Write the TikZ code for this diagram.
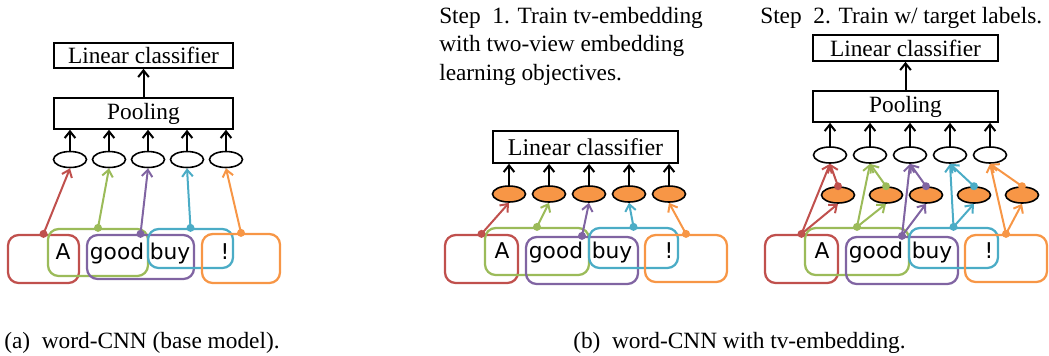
\documentclass[tikz,border=0pt]{standalone}
\usepackage{fontspec}
\setmainfont{Liberation Serif}
\newfontfamily\wordfont{DejaVu Sans}
\usetikzlibrary{arrows.meta,shapes.geometric}

\newcommand{\px}[1]{#1*0.75pt}
\definecolor{wred}{HTML}{C0504D}
\definecolor{wgreen}{HTML}{9BBB59}
\definecolor{wpurple}{HTML}{8064A2}
\definecolor{wblue}{HTML}{4BACC6}
\definecolor{worange}{HTML}{F79646}

\tikzset{
  layer/.style={draw, line width=1.2pt, inner sep=0pt, minimum width=\px{179}, font=\fontsize{17.5}{20}\selectfont},
  cell/.style={ellipse, draw, line width=1.2pt, minimum width=\px{33}, minimum height=\px{16}, inner sep=0pt},
  tvcell/.style={cell, fill=worange},
  win/.style={draw=#1, line width=1.7pt, rounded corners=8pt, inner sep=0pt},
  word/.style={font=\wordfont\fontsize{16.3}{18}\selectfont, anchor=base, inner sep=0pt},
  up/.style={-{Straight Barb[length=5pt,width=8pt]}, line width=1.5pt},
  link/.style={draw=#1, line width=1.5pt, -{Straight Barb[length=5pt,width=8pt]}},
  dot/.style={circle, fill=#1, inner sep=0pt, minimum size=6pt},
  caption/.style={font=\fontsize{17.5}{21.4}\selectfont, anchor=base west, inner sep=0pt, align=left}
}

% one row of overlapping windows, red box starting at x=0
\newcommand{\wordrow}[1]{%
  \node[win=wred, minimum width=\px{73}, minimum height=\px{48}] (#1r) at (36.5,259) {};
  \node[win=wgreen, minimum width=\px{104}, minimum height=\px{47}] (#1g) at (92,251.5) {};
  \node[win=wpurple, minimum width=\px{112}, minimum height=\px{47}] (#1p) at (137,260.5) {};
  \node[win=wblue, minimum width=\px{89}, minimum height=\px{40}] (#1b) at (188.5,248) {};
  \node[win=worange, minimum width=\px{82}, minimum height=\px{47}] (#1o) at (241,258.5) {};
  \node[word] (#1w1) at (57,258) {A};
  \node[word] (#1w2) at (111,258) {good};
  \node[word] (#1w3) at (167,258) {buy};
  \node[word] (#1w4) at (224,258) {!};
}

\begin{document}
\begin{tikzpicture}[x=0.75pt, y=-0.75pt]
\useasboundingbox (0,0) rectangle (1049,355);

% (a) base model
\node[layer, minimum height=\px{25}] (alin) at (143.5,55.5) {Linear classifier};
\node[layer, minimum height=\px{31}] (apool) at (143.5,113.5) {Pooling};
\draw[up] (apool) -- (alin);
\foreach \i/\x in {1/70,2/109,3/148,4/187,5/226} {
  \node[cell] (ae\i) at (\x,159.5) {};
  \draw[up] (ae\i.north) -- (ae\i.north |- apool.south);
}
\node[win=wred, minimum width=\px{71}, minimum height=\px{48}] (ar) at (43.5,259) {};
\node[win=wgreen, minimum width=\px{100}, minimum height=\px{47}] (ag) at (98,252.5) {};
\node[win=wpurple, minimum width=\px{107}, minimum height=\px{44}] (ap) at (140.5,257) {};
\node[win=wblue, minimum width=\px{85}, minimum height=\px{39}] (ab) at (190.5,248.5) {};
\node[win=worange, minimum width=\px{78}, minimum height=\px{49}] (ao) at (241,258.5) {};
\node[word] (aw1) at (63,259) {A};
\node[word] (aw2) at (117,259) {good};
\node[word] (aw3) at (170,259) {buy};
\node[word] (aw4) at (225,259) {!};
\foreach \w/\c/\i in {r/wred/1,g/wgreen/2,p/wpurple/3,b/wblue/4,o/worange/5}
  \draw[link=\c] (a\w.north) node[dot=\c] {} -- (ae\i.south);
\node[caption] (acap) at (4,348) {(a)\ \ word-CNN (base model).};

% (b) step 1
\node[caption, anchor=north west] (step1) at (439,7) {Step\ \ 1. Train tv-embedding\\with two-view embedding\\learning objectives.};
\node[layer, minimum width=\px{185}, minimum height=\px{32}, font=\fontsize{18}{20}\selectfont] (blin) at (585.5,147) {Linear classifier};
\foreach \i/\x in {1/509,2/549,3/589,4/629,5/669} {
  \node[tvcell] (bt\i) at (\x,194) {};
  \draw[up] (bt\i.north) -- (bt\i.north |- blin.south);
}
\begin{scope}[shift={(445,0)}]
  \wordrow{b}
\end{scope}
\foreach \w/\c/\i in {r/wred/1,g/wgreen/2,p/wpurple/3,b/wblue/4,o/worange/5}
  \draw[link=\c] (b\w.north) node[dot=\c] {} -- (bt\i.south);

% (b) step 2
\node[caption] (step2) at (760,23) {Step\ \ 2. Train w/ target labels.};
\node[layer, minimum width=\px{185}, minimum height=\px{26}] (clin) at (905.5,48) {Linear classifier};
\node[layer, minimum width=\px{185}, minimum height=\px{31}] (cpool) at (905.5,106.5) {Pooling};
\draw[up] (cpool) -- (clin);
\foreach \i/\x/\t in {1/830/838,2/870/886,3/910/926,4/950/974,5/990/1022} {
  \node[cell] (ce\i) at (\x,155) {};
  \node[tvcell] (ct\i) at (\t,195) {};
  \draw[up] (ce\i.north) -- (ce\i.north |- cpool.south);
}
\begin{scope}[shift={(765,0)}]
  \wordrow{c}
\end{scope}
\foreach \w/\c/\i in {r/wred/1,g/wgreen/2,p/wpurple/3,b/wblue/4,o/worange/5} {
  \draw[link=\c] (c\w.north) node[dot=\c] {} -- (ce\i.south);
  \draw[link=\c] (c\w.north) -- (ct\i.south);
  \draw[link=\c] (ct\i.north) node[dot=\c] {} -- (ce\i.south);
}
\node[caption] (bcap) at (573,348) {(b)\ \ word-CNN with tv-embedding.};

\end{tikzpicture}
\end{document}
